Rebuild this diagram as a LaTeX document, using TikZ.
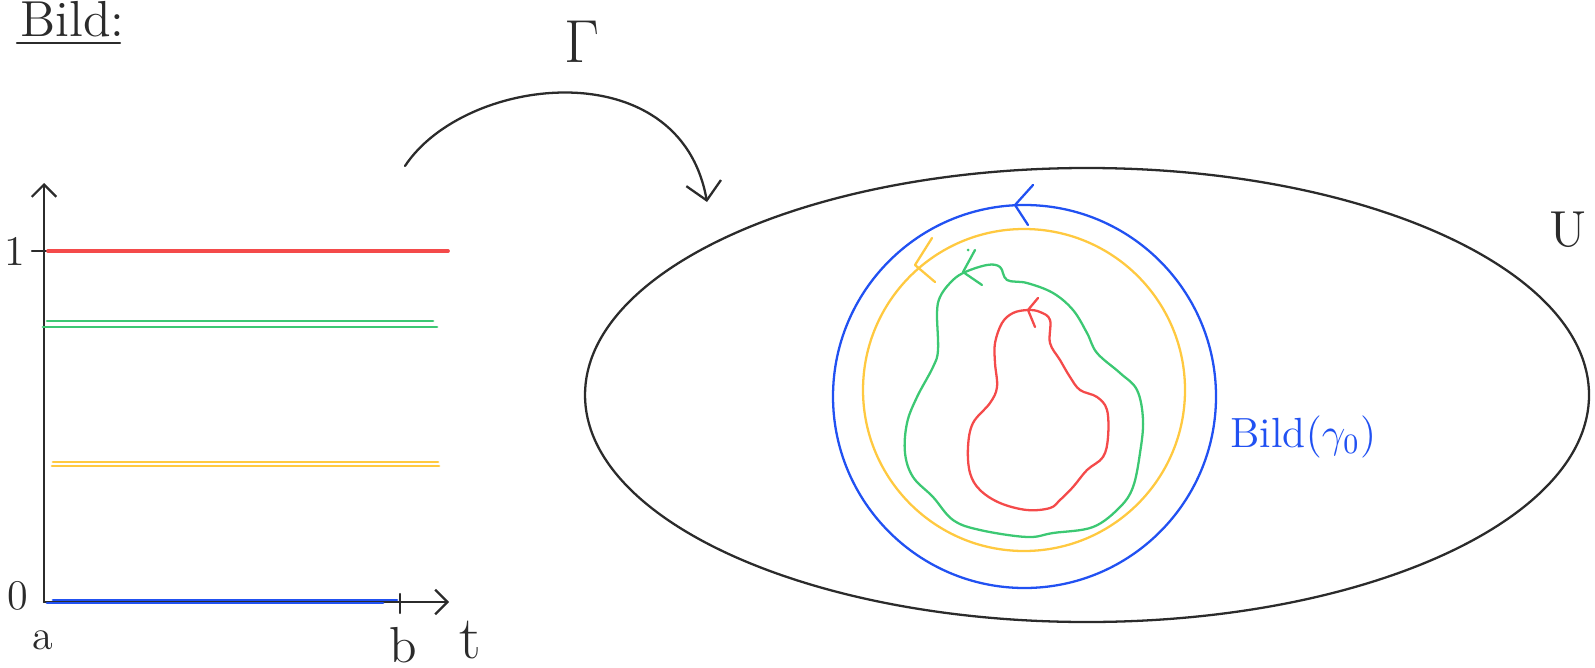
\documentclass[tikz,border=0pt]{standalone}
\usepackage{amsmath}
\usepackage{tikz}
\usetikzlibrary{arrows.meta, positioning}

\definecolor{penblack}{HTML}{2B2B2B}
\definecolor{penred}{HTML}{F44A4A}
\definecolor{pengreen}{HTML}{3CC873}
\definecolor{penyellow}{HTML}{FFC940}
\definecolor{penblue}{HTML}{2151F2}

\begin{document}
\begin{tikzpicture}
        [
        x=0.01cm, y=-0.01cm,
        pen/.style={line width=0.65pt, line cap=round, line join=round},
        axis/.style={pen, draw=penblack, -{Straight Barb[length=3.5pt, width=7pt]}},
        level/.style={line width=0.8pt, line cap=round},
        hand/.style={inner sep=0pt, text=penblack, font=\large}
        ]

        \useasboundingbox (0,0) rectangle (1595,667);

        \node[hand, anchor=base west, font=\Large] (title) at (20,37) {Bild:};
        \draw[pen, draw=penblack] (17,43) -- (120,43);

        \coordinate (origin) at (44,602);
        \coordinate (ytop) at (44,183);
        \coordinate (xend) at (449,602);
        \draw[axis] (origin) -- (ytop);
        \draw[axis] (origin) -- (xend);
        \draw[pen, draw=penblack] (32,251) -- (57,251);
        \draw[pen, draw=penblack] (400,594) -- (400,613);

        \node[hand] (one) at (15,251) {1};
        \node[hand] (zero) at (18,596) {0};
        \node[hand] (lowa) at (43,640) {a};
        \node[hand, font=\Large] (lowb) at (403,645) {b};
        \node[hand, font=\LARGE] (tvar) at (470,640) {t};

        \draw[level, penred, line width=1.05pt] (48,251) -- (448,251);
        \draw[level, pengreen] (47,321) -- (433,321);
        \draw[level, pengreen] (43,327) -- (437,327);
        \draw[level, penyellow] (53,462) -- (438,462);
        \draw[level, penyellow] (52,466) -- (439,466);
        \draw[level, penblue] (53,600) -- (397,600);
        \draw[level, penblue] (47,603) -- (383,603);

        \coordinate (gstart) at (405,166);
        \coordinate (gend) at (707,202);
        \draw[pen, draw=penblack, -{Straight Barb[length=5pt, width=10pt]}]
            (gstart) .. controls (465,75) and (680,50) .. (gend);
        \node[hand, font=\LARGE] (gamma) at (582,42) {$\Gamma$};

        \draw[pen, draw=penblack] (1087,395) ellipse [x radius=502, y radius=227];
        \node[hand, font=\Large] (setU) at (1568,230) {U};

        \draw[pen, draw=penblue] (1024.5,396.5) circle [radius=191.5];
        \draw[pen, draw=penyellow] (1024,390) circle [radius=161];

        \draw[pen, draw=pengreen] plot[smooth cycle, tension=0.6] coordinates {
            (963,273) (987,265) (1000,267) (1007,280) (1027,283) (1053,293)
            (1073,310) (1087,333) (1097,353) (1120,373) (1137,390) (1143,420)
            (1140,453) (1133,487) (1120,507) (1093,527) (1053,533) (1027,537)
            (980,530) (953,520) (933,497) (913,477) (905,453) (907,423)
            (917,397) (933,367) (938,350) (937,313) (940,297) (950,283)};

        \draw[pen, draw=penred] plot[smooth cycle, tension=0.6] coordinates {
            (1028,310) (1040,312) (1050,320) (1050,343) (1060,360) (1070,377)
            (1080,390) (1097,397) (1107,410) (1108,437) (1103,457) (1087,470)
            (1073,487) (1060,500) (1050,508) (1027,510) (1000,503) (980,490)
            (970,473) (968,447) (973,423) (990,403) (997,387) (995,363)
            (995,343) (1002,323) (1013,313)};

        \draw[pen, draw=penblue] (1033,185) -- (1015,205) -- (1028,225);
        \draw[pen, draw=penyellow] (932,238) -- (915,265) -- (935,282);
        \draw[pen, draw=pengreen] (975,250) -- (963,272) -- (982,285);
        \fill[pengreen] (968,250) circle [radius=1.5];
        \draw[pen, draw=penred] (1038,298) -- (1028,310) -- (1035,327);

        \node[hand, text=penblue, anchor=west] (image) at (1230,437) {Bild$(\gamma_0)$};

    \end{tikzpicture}
\end{document}
